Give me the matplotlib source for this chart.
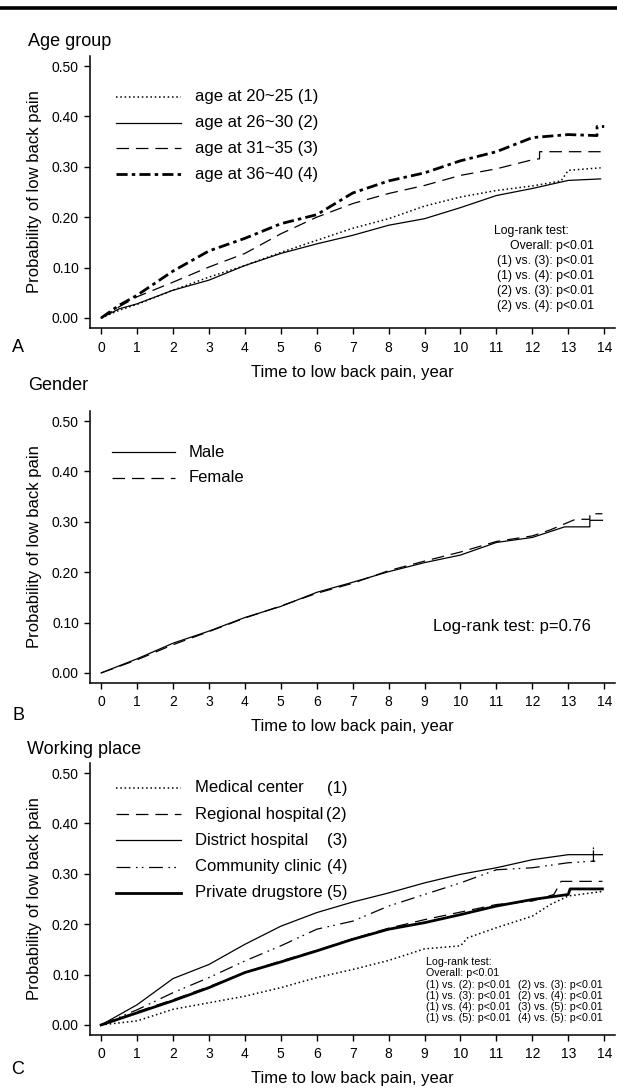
import matplotlib
matplotlib.use("Agg")
import matplotlib.pyplot as plt
from matplotlib.lines import Line2D
import matplotlib.ticker as ticker

plt.rcParams['font.family'] = ['Liberation Sans', 'DejaVu Sans']
plt.rcParams['lines.scale_dashes'] = False

# ---- panel A: age group ----
age_labels = ['age at 20~25 (1)', 'age at 26~30 (2)', 'age at 31~35 (3)', 'age at 36~40 (4)']
age1_t = [0, 0.5, 1, 2, 3, 4, 5, 6, 7, 8, 9, 10, 11, 12, 12.8, 13.0, 13.9]
age1_p = [0, 0.015, 0.027, 0.055, 0.081, 0.104, 0.130, 0.154, 0.178, 0.197, 0.222, 0.240, 0.253, 0.262, 0.272, 0.293, 0.298]
age2_t = [0, 0.5, 1, 2, 3, 4, 5, 6, 7, 8, 9, 10, 11, 12, 13, 13.9]
age2_p = [0, 0.018, 0.028, 0.055, 0.075, 0.104, 0.128, 0.147, 0.164, 0.184, 0.197, 0.219, 0.243, 0.257, 0.273, 0.276]
age3_t = [0, 0.5, 1, 2, 3, 4, 5, 6, 7, 8, 9, 10, 11, 12, 12.2, 12.2, 13.9]
age3_p = [0, 0.022, 0.042, 0.071, 0.101, 0.128, 0.167, 0.200, 0.227, 0.247, 0.263, 0.283, 0.296, 0.314, 0.316, 0.330, 0.330]
age4_t = [0, 0.5, 1, 2, 3, 4, 5, 6, 7, 8, 9, 10, 11, 12, 13, 13.8, 13.8, 14.0]
age4_p = [0, 0.025, 0.045, 0.093, 0.133, 0.158, 0.187, 0.205, 0.248, 0.272, 0.288, 0.312, 0.330, 0.358, 0.364, 0.362, 0.380, 0.380]
age_logrank = ['Log-rank test:', 'Overall: p<0.01', '(1) vs. (3): p<0.01', '(1) vs. (4): p<0.01',
               '(2) vs. (3): p<0.01', '(2) vs. (4): p<0.01']

# ---- panel B: gender ----
gender_labels = ['Male', 'Female']
male_t = [0, 1, 2, 3, 4, 5, 6, 7, 8, 9, 10, 11, 12, 12.9, 13.6, 13.6, 13.95]
male_p = [0, 0.028, 0.059, 0.083, 0.110, 0.132, 0.160, 0.180, 0.201, 0.219, 0.234, 0.259, 0.269, 0.290, 0.290, 0.303, 0.303]
female_t = [0, 1, 2, 3, 4, 5, 6, 7, 8, 9, 10, 11, 12, 12.5, 13.2, 13.6, 13.6, 13.95]
female_p = [0, 0.026, 0.056, 0.082, 0.109, 0.133, 0.158, 0.178, 0.203, 0.222, 0.240, 0.261, 0.272, 0.284, 0.305, 0.305, 0.316, 0.316]
gender_logrank = 'Log-rank test: p=0.76'

# ---- panel C: working place ----
work_names = ['Medical center', 'Regional hospital', 'District hospital', 'Community clinic', 'Private drugstore']
work_nums = ['(1)', '(2)', '(3)', '(4)', '(5)']
med_t = [0, 1, 2, 3, 4, 5, 6, 7, 8, 9, 10, 10.2, 11, 12, 12.5, 13, 13.95]
med_p = [0, 0.008, 0.031, 0.044, 0.057, 0.074, 0.094, 0.110, 0.128, 0.151, 0.157, 0.173, 0.193, 0.216, 0.239, 0.256, 0.265]
reg_t = [0, 1, 2, 3, 4, 5, 6, 7, 8, 9, 10, 11, 12, 12.6, 12.8, 13.95]
reg_p = [0, 0.026, 0.050, 0.076, 0.104, 0.127, 0.148, 0.171, 0.192, 0.209, 0.224, 0.239, 0.246, 0.259, 0.285, 0.285]
dist_t = [0, 1, 2, 3, 4, 5, 6, 7, 8, 9, 10, 11, 12, 13, 13.95]
dist_p = [0, 0.040, 0.092, 0.120, 0.160, 0.196, 0.223, 0.244, 0.262, 0.282, 0.299, 0.312, 0.328, 0.338, 0.338]
comm_t = [0, 1, 2, 3, 4, 5, 6, 7, 8, 9, 10, 11, 12, 13, 13.7, 13.7, 13.7, 13.75]
comm_p = [0, 0.030, 0.064, 0.094, 0.127, 0.157, 0.190, 0.206, 0.236, 0.259, 0.282, 0.308, 0.312, 0.322, 0.325, 0.355, 0.325, 0.325]
priv_t = [0, 1, 2, 3, 4, 5, 6, 7, 8, 9, 10, 11, 12, 13, 13.05, 13.95]
priv_p = [0, 0.024, 0.048, 0.074, 0.104, 0.125, 0.147, 0.170, 0.190, 0.203, 0.219, 0.236, 0.249, 0.259, 0.270, 0.270]
work_logrank_head = ['Log-rank test:', 'Overall: p<0.01']
work_logrank_left = ['(1) vs. (2): p<0.01', '(1) vs. (3): p<0.01', '(1) vs. (4): p<0.01', '(1) vs. (5): p<0.01']
work_logrank_right = ['(2) vs. (3): p<0.01', '(2) vs. (4): p<0.01', '(3) vs. (5): p<0.01', '(4) vs. (5): p<0.01']

xticks = list(range(0, 15))
yticks = [0.0, 0.1, 0.2, 0.3, 0.4, 0.5]

W, H = 617, 1088
fig = plt.figure(figsize=(W / 100, H / 100), dpi=100)


def fx(px):
    return px / W


def fy(py):
    return 1 - py / H


# line styles (thin, thick, patterns in points)
DOT = dict(color='black', lw=1.1, linestyle=(0, (1.1, 2.0)))
SOLID = dict(color='black', lw=0.9, linestyle='-')
DASH = dict(color='black', lw=0.9, linestyle=(0, (9, 5)))
DASHDOT = dict(color='black', lw=2.0, linestyle=(0, (8, 3, 2.5, 3)))
DASHDOTDOT = dict(color='black', lw=0.9, linestyle=(0, (10, 4, 1.2, 3, 1.2, 4)))
THICK = dict(color='black', lw=2.0, linestyle='-')


def make_axes(bottom_px):
    ax = fig.add_axes([fx(90), fy(bottom_px), fx(615) - fx(90), 272 / H])
    ax.set_xlim(-0.31, 14.3)
    ax.set_ylim(-0.02, 0.52)
    ax.spines['top'].set_visible(False)
    ax.spines['right'].set_visible(False)
    ax.spines['left'].set_linewidth(1.1)
    ax.spines['bottom'].set_linewidth(1.1)
    ax.set_xticks(xticks)
    ax.set_yticks(yticks)
    ax.yaxis.set_major_formatter(ticker.FormatStrFormatter('%.2f'))
    ax.tick_params(axis='both', direction='out', length=4, width=1.0, labelsize=10)
    ax.tick_params(axis='x', pad=5)
    ax.tick_params(axis='y', pad=4)
    ax.text(-55 / 525, 0.5, 'Probability of low back pain', rotation=90, fontsize=12,
            ha='center', va='center', transform=ax.transAxes)
    ax.text(0.5, -44 / 272, 'Time to low back pain, year', fontsize=12,
            ha='center', va='center', transform=ax.transAxes)
    return ax


def legend_line(x0, x1, y, style):
    fig.add_artist(Line2D([fx(x0), fx(x1)], [fy(y), fy(y)], transform=fig.transFigure, **style))


# top rule
fig.add_artist(Line2D([0, 1], [fy(8), fy(8)], transform=fig.transFigure, color='black', lw=2.6))

# ---------- A ----------
axA = make_axes(328)
age_styles = [DOT, SOLID, DASH, DASHDOT]
for t, p, st in zip([age1_t, age2_t, age3_t, age4_t], [age1_p, age2_p, age3_p, age4_p], age_styles):
    axA.plot(t, p, **st)
fig.text(fx(28), fy(42), 'Age group', fontsize=13, ha='left', va='center')
fig.text(fx(18), fy(348), 'A', fontsize=13, ha='center', va='center')
for i, (lab, st) in enumerate(zip(age_labels, age_styles)):
    y = 97 + i * 25.7
    legend_line(116, 181, y, st)
    fig.text(fx(195), fy(y), lab, fontsize=12, ha='left', va='center')
for i, s in enumerate(age_logrank):
    y = 231 + i * 15
    if i == 0:
        fig.text(fx(494), fy(y), s, fontsize=8.8, ha='left', va='center')
    else:
        fig.text(fx(594), fy(y), s, fontsize=8.8, ha='right', va='center')

# ---------- B ----------
axB = make_axes(683)
gender_styles = [SOLID, DASH]
axB.plot(male_t, male_p, **SOLID)
axB.plot(female_t, female_p, **DASH)
fig.text(fx(28), fy(385), 'Gender', fontsize=13, ha='left', va='center')
fig.text(fx(18), fy(715), 'B', fontsize=13, ha='center', va='center')
for i, (lab, st) in enumerate(zip(gender_labels, gender_styles)):
    y = 452 + i * 26
    legend_line(112, 175, y, st)
    fig.text(fx(189), fy(y), lab, fontsize=12, ha='left', va='center')
fig.text(fx(591), fy(627), gender_logrank, fontsize=12, ha='right', va='center')

# ---------- C ----------
axC = make_axes(1035)
work_styles = [DOT, DASH, SOLID, DASHDOTDOT, THICK]
for t, p, st in zip([med_t, reg_t, dist_t, comm_t, priv_t], [med_p, reg_p, dist_p, comm_p, priv_p], work_styles):
    axC.plot(t, p, **st)
fig.text(fx(27), fy(750), 'Working place', fontsize=13, ha='left', va='center')
fig.text(fx(18), fy(1070), 'C', fontsize=13, ha='center', va='center')
for i, (name, num, st) in enumerate(zip(work_names, work_nums, work_styles)):
    y = 788 + i * 26.2
    legend_line(116, 181, y, st)
    fig.text(fx(195), fy(y), name, fontsize=12, ha='left', va='center')
    fig.text(fx(347), fy(y), num, fontsize=12, ha='right', va='center')
for i, s in enumerate(work_logrank_head):
    fig.text(fx(426), fy(962 + i * 11.5), s, fontsize=7.7, ha='left', va='center')
for i, (sl, sr) in enumerate(zip(work_logrank_left, work_logrank_right)):
    y = 985 + i * 11
    fig.text(fx(426), fy(y), sl, fontsize=7.7, ha='left', va='center')
    fig.text(fx(518), fy(y), sr, fontsize=7.7, ha='left', va='center')

fig.savefig('out.png', dpi=100)
